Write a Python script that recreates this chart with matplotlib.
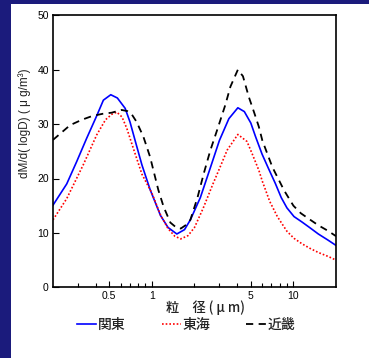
import matplotlib
matplotlib.use("Agg")
import matplotlib.pyplot as plt
from matplotlib.patches import Rectangle
from matplotlib.ticker import FixedLocator, NullFormatter

# ---- data ----
kanto_x = [0.2, 0.25, 0.294, 0.346, 0.407, 0.454, 0.512, 0.57, 0.647, 0.70, 0.77, 0.85, 0.97,
           1.15, 1.3, 1.5, 1.7, 1.87, 2.2, 2.59, 3.0, 3.5, 4.05, 4.5, 5.0, 5.4, 6.0, 6.65,
           7.45, 8.2, 9.0, 10.1, 11.5, 13, 15, 17.5, 20]
kanto_y = [15.1, 19.0, 23.1, 27.4, 31.5, 34.4, 35.4, 34.8, 32.9, 30.4, 26.5, 22.5, 18.0,
           13.2, 11.0, 9.8, 10.6, 12.4, 16.5, 22.0, 27.0, 31.0, 33.0, 32.3, 30.2, 27.7, 24.5, 21.9,
           19.1, 16.5, 14.6, 13.0, 12.0, 11.0, 9.8, 8.7, 7.7]

tokai_x = [0.2, 0.25, 0.327, 0.407, 0.47, 0.52, 0.565, 0.615, 0.665, 0.74, 0.85, 1.0, 1.15,
           1.3, 1.45, 1.6, 1.8, 2.0, 2.3, 2.7, 3.0, 3.4, 4.05, 4.7, 5.12, 5.7, 6.03, 6.8,
           7.7, 9.0, 10.1, 11.5, 13, 15, 17.5, 20]
tokai_y = [12.4, 16.3, 22.5, 28.0, 30.8, 31.8, 32.2, 31.3, 29.2, 25.5, 20.8, 17.3, 13.3,
           10.8, 9.4, 8.9, 9.5, 11.0, 14.5, 19.0, 21.8, 25.2, 28.1, 26.8, 24.5, 21.5, 19.5, 15.8,
           13.0, 10.3, 9.0, 8.0, 7.2, 6.4, 5.7, 5.0]

kinki_x = [0.2, 0.264, 0.32, 0.38, 0.45, 0.52, 0.61, 0.67, 0.72, 0.78, 0.87, 0.97, 1.11,
           1.21, 1.35, 1.5, 1.6, 1.75, 1.87, 2.1, 2.33, 2.59, 2.89, 3.3, 3.59, 4.05, 4.4,
           4.84, 5.3, 5.7, 6.03, 7.1, 8.6, 10, 11.3, 13, 15, 17.5, 20]
kinki_y = [27.1, 29.8, 30.8, 31.5, 31.9, 32.1, 32.6, 32.4, 31.8, 30.4, 27.7, 24.0, 17.9,
           14.8, 11.9, 10.9, 10.8, 11.5, 12.4, 16.5, 21.0, 25.2, 28.9, 33.5, 36.9, 40.0, 38.8,
           35.0, 32.0, 29.5, 27.0, 22.1, 17.8, 15.0, 13.6, 12.5, 11.4, 10.4, 9.4]

series_names = ["関東", "東海", "近畿"]
x_major = [0.5, 1, 5, 10]
x_major_labels = ["0.5", "1", "5", "10"]
x_minor = [0.3, 0.4, 0.6, 0.7, 0.8, 0.9, 2, 3, 4, 6, 7, 8, 9]
y_ticks = [0, 10, 20, 30, 40, 50]

CJK = ["Noto Sans CJK JP", "DejaVu Sans"]
LAT = ["Liberation Sans", "Noto Sans CJK JP", "DejaVu Sans"]

fig = plt.figure(figsize=(3.69, 3.58), dpi=100, facecolor="#1b1b7c")
fig.patches.append(Rectangle((11 / 369, 0), 1 - 11 / 369, 1 - 4 / 358,
                             transform=fig.transFigure, facecolor="white",
                             edgecolor="none", zorder=-10))

ax = fig.add_axes([53 / 369, 1 - 287.3 / 358, 283 / 369, 272 / 358])
ax.set_facecolor("white")
ax.set_zorder(5)

ax.plot(kanto_x, kanto_y, color="#0000ff", lw=1.2, label=series_names[0])
ax.plot(tokai_x, tokai_y, color="#ff0000", lw=1.2, linestyle=(0, (1, 1.2)), label=series_names[1])
ax.plot(kinki_x, kinki_y, color="black", lw=1.3, linestyle=(0, (4, 3)), label=series_names[2])

ax.set_xscale("log")
ax.set_xlim(0.2, 20)
ax.set_ylim(0, 50)
ax.xaxis.set_major_locator(FixedLocator(x_major))
ax.set_xticklabels(x_major_labels, family=LAT, fontsize=7.5, color="#222222")
ax.xaxis.set_minor_locator(FixedLocator(x_minor))
ax.xaxis.set_minor_formatter(NullFormatter())
ax.set_yticks(y_ticks)
ax.set_yticklabels([str(v) for v in y_ticks], family=LAT, fontsize=7.5, color="#222222")
ax.tick_params(which="major", direction="in", length=4, width=0.8, pad=3, colors="black")
ax.tick_params(which="minor", direction="in", length=3, width=0.8)
for s in ax.spines.values():
    s.set_linewidth(1.2)

fig.text(25 / 369, 1 - 123 / 358, "dM/d( logD) ( μ g/m³)", rotation=90,
         ha="center", va="center", fontsize=8.5, family=LAT, color="#222222", zorder=6)
fig.text(205 / 369, 1 - 308 / 358, "粒　径 ( μ m)", ha="center", va="center",
         fontsize=9.5, family=CJK, color="#222222", weight="medium", zorder=6)

leg = fig.legend(loc="center left", bbox_to_anchor=(77 / 369, 1 - 325 / 358), ncol=3,
                 frameon=False, handlelength=1.4, handletextpad=0.1, columnspacing=2.6,
                 borderpad=0, borderaxespad=0,
                 prop={"family": CJK, "size": 10, "weight": "medium"})
leg.set_zorder(6)
for t in leg.get_texts():
    t.set_color("#222222")

fig.savefig("out.png", dpi=100, facecolor=fig.get_facecolor())
